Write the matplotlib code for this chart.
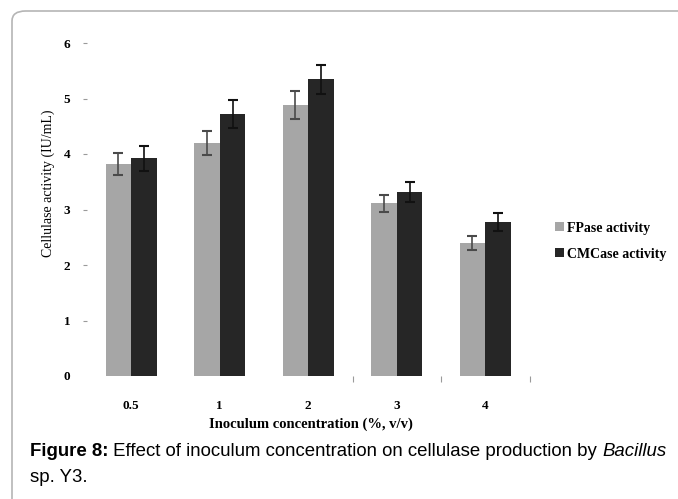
import matplotlib.pyplot as plt
from matplotlib.patches import FancyBboxPatch
import numpy as np

# ================================================================
# DATA
# ================================================================

concentrations = ["0.5", "1", "2", "3", "4"]
fpase = [3.82, 4.20, 4.88, 3.11, 2.40]
fpase_err = [0.20, 0.21, 0.25, 0.15, 0.13]
cmcase = [3.92, 4.72, 5.35, 3.32, 2.77]
cmcase_err = [0.22, 0.25, 0.26, 0.18, 0.16]

SERIF = "Liberation Serif"
SANS = "Liberation Sans"
CAP_SIZE = 13.4

# ================================================================
# FIGURE
# ================================================================

fig = plt.figure(figsize=(6.78, 4.99), dpi=100)

# rounded frame around the figure block
frame = FancyBboxPatch((12 / 678, -0.1), 1.2, (488 / 499) + 0.1,
                       boxstyle="round,pad=0,rounding_size=0.02",
                       transform=fig.transFigure, facecolor="none",
                       edgecolor="#b5b5b5", linewidth=1.2)
fig.patches.append(frame)

ax = fig.add_axes([87 / 678, 123 / 499, 442.5 / 678, 333 / 499])

x = np.arange(len(concentrations))
w = 0.29

ax.bar(x - w / 2, fpase, w, color="#a6a6a6", label="FPase activity")
ax.bar(x + w / 2, cmcase, w, color="#262626", label="CMCase activity")
ax.errorbar(x - w / 2, fpase, yerr=fpase_err, fmt="none", ecolor="#4a4a4a",
            elinewidth=1.2, capsize=3.5, capthick=1.5)
ax.errorbar(x + w / 2, cmcase, yerr=cmcase_err, fmt="none", ecolor="#111111",
            elinewidth=1.2, capsize=3.5, capthick=1.5)

ax.set_xlim(-0.5, len(concentrations) - 0.5)
ax.set_ylim(0, 6)

for s in ax.spines.values():
    s.set_visible(False)

ax.set_xticks(x)
ax.set_xticklabels(concentrations, fontfamily=SERIF, fontweight="bold", fontsize=9.5)
ax.tick_params(axis="x", length=0, pad=17)

# small separator ticks between the later groups
ax.set_xticks([2.5, 3.5, 4.5], minor=True)
ax.tick_params(axis="x", which="minor", length=4, color="#9a9a9a", width=0.8,
               direction="out", pad=0)

ax.set_yticks(range(0, 7))
ax.set_yticklabels([str(v) for v in range(0, 7)], fontfamily=SERIF,
                   fontweight="bold", fontsize=9.5)
ax.tick_params(axis="y", length=3, width=0.8, color="#9a9a9a", pad=9)
ax.yaxis.get_major_ticks()[0].tick1line.set_visible(False)

ax.set_ylabel("Cellulase activity (IU/mL)", fontfamily=SERIF, fontsize=10)
ax.yaxis.set_label_coords(-0.072, 0.58)
ax.set_xlabel("Inoculum concentration (%, v/v)", fontfamily=SERIF,
              fontweight="bold", fontsize=10.5)
ax.xaxis.set_label_coords(0.505, -0.125)

ax.legend(loc="center left", bbox_to_anchor=(1.03, 0.405), frameon=False,
          prop={"family": SERIF, "weight": "bold", "size": 10},
          handlelength=0.6, handleheight=0.6, handletextpad=0.25,
          labelspacing=0.95)

# caption: bold label, plain text, italic genus, placed side by side
renderer = fig.canvas.get_renderer()
cy = 1 - 451 / 499
cx = 30 / 678
pieces = [("Figure 8:", "bold", "normal"),
          (" Effect of inoculum concentration on cellulase production by ", "normal", "normal"),
          ("Bacillus", "normal", "italic")]
for txt, weight, style in pieces:
    t = fig.text(cx, cy, txt, fontfamily=SANS, fontsize=CAP_SIZE,
                 fontweight=weight, fontstyle=style, va="center", ha="left")
    bb = t.get_window_extent(renderer)
    cx = bb.x1 / fig.bbox.width
fig.text(30 / 678, 1 - 477 / 499, "sp. Y3.", fontfamily=SANS, fontsize=CAP_SIZE,
         va="center", ha="left")

fig.savefig("out.png", dpi=100)
